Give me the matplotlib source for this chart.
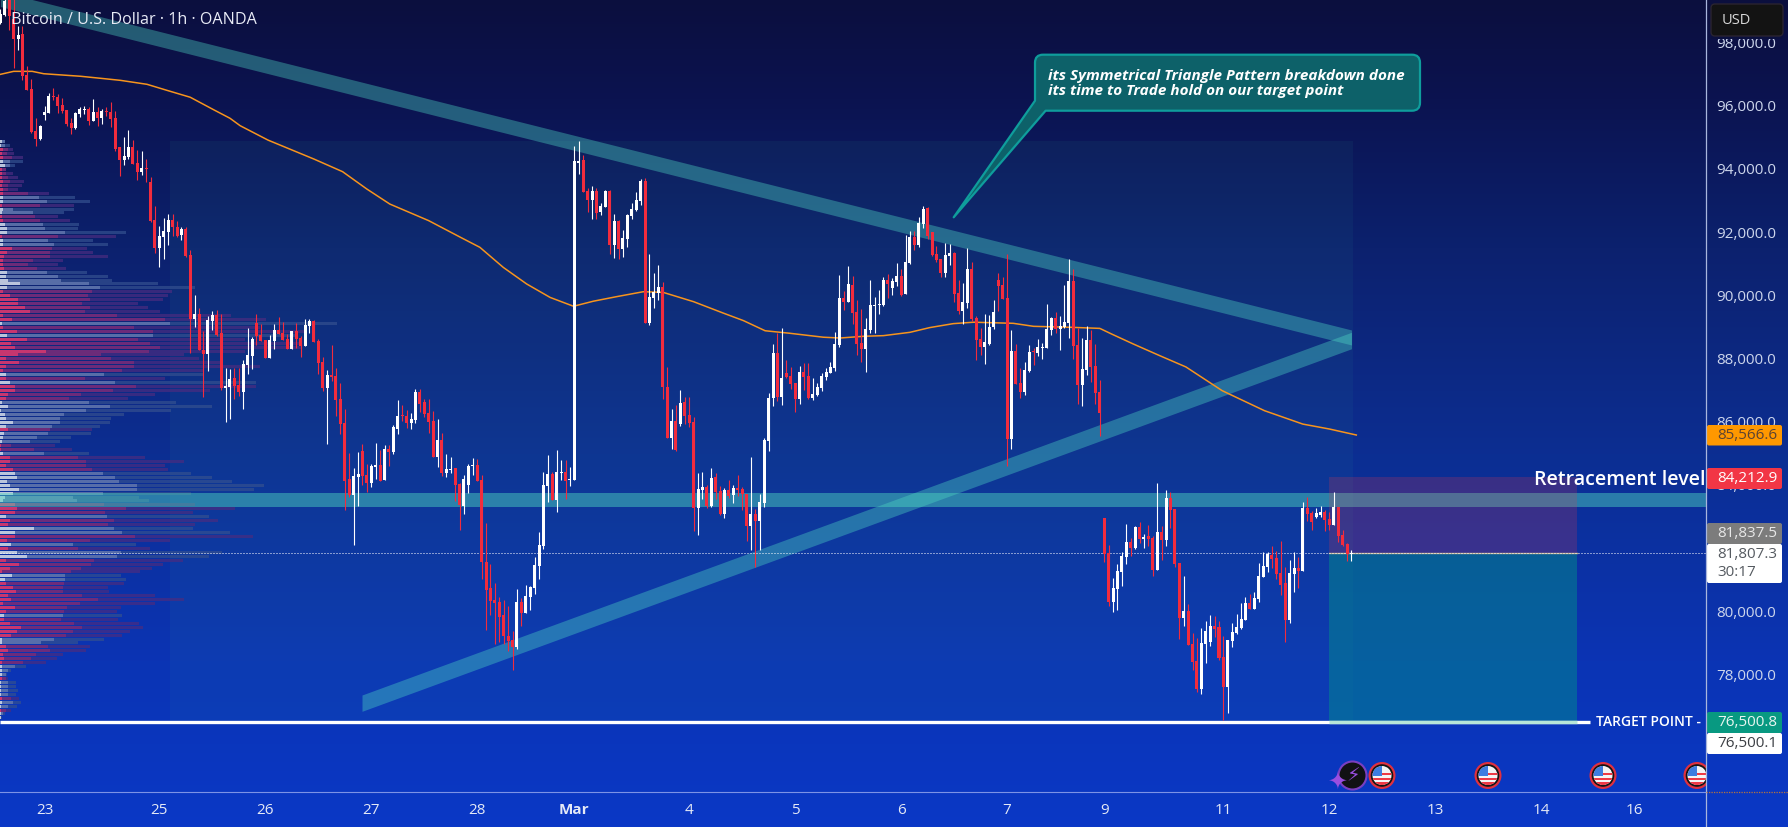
import numpy as np
from matplotlib import pyplot as plt
from matplotlib.patches import Circle, PathPatch, Rectangle, FancyBboxPatch
from matplotlib.path import Path

plt.rcParams['font.family'] = ['Open Sans', 'DejaVu Sans']

# hourly candles as (open, high, low, close)
candles_feb_a = [
    (98590, 99030, 98560, 98870), (98850, 99450, 98820, 99290), (99345, 99400, 98375, 98820), (98710, 99345, 97160, 98080),
    (98080, 98500, 97740, 98205), (98240, 98480, 96780, 96900), (96940, 97235, 96465, 96465), (96500, 96815, 95105, 95125),
    (95165, 95570, 94700, 94915), (94915, 95355, 94880, 95325), (95675, 95960, 95525, 95770), (95735, 96370, 95735, 96275),
    (96265, 96530, 96160, 96235), (96245, 96340, 95735, 95960), (95990, 96210, 95735, 95800), (95830, 95830, 95325, 95390),
    (95420, 95580, 95070, 95260), (95260, 95770, 95230, 95735), (95705, 95925, 95610, 95865), (95820, 95960, 95705, 95855),
    (95865, 95925, 95355, 95485), (95485, 96180, 95485, 95770), (95770, 95925, 95325, 95580), (95580, 95865, 95390, 95800),
    (95790, 95925, 95640, 95760), (95770, 96085, 95290, 95545), (95580, 95800, 94535, 94600), (94660, 94660, 93745, 94250),
    (94250, 94975, 94090, 94375), (94345, 95200, 94280, 94660), (94660, 94880, 94120, 94120), (94155, 94565, 93615, 93870),
    (93870, 94535, 93775, 93995), (93995, 94280, 93555, 93965), (93555, 93710, 92285, 92320), (92350, 92790, 91305, 91465),
    (91465, 92160, 90865, 91845), (91815, 92415, 91115, 92000), (91970, 92540, 91560, 92350), (92350, 92540, 91845, 92130),
    (92130, 92320, 91815, 91845), (91875, 92120, 91715, 92065), (92065, 92130, 91180, 91210), (91240, 91400, 88140, 89215),
    (89215, 89975, 88965, 89375), (89375, 89565, 88235, 88235), (88235, 88835, 86750, 88110), (88110, 89310, 87570, 89185),
    (89155, 89470, 88870, 89345), (89345, 89500, 88680, 88710), (88775, 89375, 86970, 87035), (87035, 87665, 85960, 87095),
]
candles_feb_b = [
    (87055, 87635, 86050, 87320), (87350, 87665, 86685, 87100), (87130, 87665, 86780, 86905), (86905, 87920, 86370, 87795),
    (87760, 88930, 87475, 88080), (88045, 88650, 87635, 88585), (89090, 89375, 88395, 88680), (88710, 89060, 88520, 88520),
    (88550, 88550, 87985, 87985), (87985, 88710, 87985, 88550), (88520, 89060, 88270, 88870), (88870, 89280, 88745, 88745),
    (88775, 89120, 88550, 88550), (88585, 88745, 88270, 88270), (88270, 88835, 88270, 88835), (88835, 89090, 88300, 88585),
    (88615, 88680, 88015, 88360), (88360, 89215, 88360, 89025), (88995, 89215, 88775, 89155), (89155, 89185, 88490, 88490),
    (88520, 88585, 87475, 87825), (87855, 88015, 86940, 87035), (87035, 87605, 85260, 87445), (87445, 88395, 87255, 87380),
    (87415, 87665, 86145, 86655), (86685, 87190, 85575, 85895), (85925, 86370, 83170, 84090), (84150, 84975, 83585, 83645),
    (83645, 84500, 82065, 84250), (84215, 85010, 83300, 84310), (85040, 85260, 83960, 84250), (84280, 84630, 83740, 84025),
    (84025, 84630, 83900, 84565), (84535, 85295, 84150, 84595), (84595, 85070, 84090, 84090), (84120, 85230, 84120, 85100),
    (85100, 85230, 84565, 85010), (85010, 85860, 84945, 85800), (85735, 86655, 85575, 86145), (86180, 86495, 85990, 86145),
    (86145, 86335, 85765, 85925), (85925, 86240, 85735, 86050), (86020, 87000, 85925, 86905), (86905, 87000, 86275, 86525),
    (86590, 86685, 86115, 86210), (86240, 86685, 85610, 85955), (85990, 86305, 84850, 84850), (84850, 86050, 84530, 85385),
    (85385, 85610, 84250, 84345), (84345, 84945, 84215, 84470), (84440, 84850, 84345, 84470), (84500, 84500, 83455, 83965),
    (83995, 84025, 82540, 83330), (83300, 84280, 83045, 84150), (83965, 84630, 83710, 84565),
]
candles_feb_c = [
    (84565, 84820, 84280, 84595), (84595, 84785, 84090, 84090), (84120, 84280, 80990, 81515), (81515, 82760, 79385, 80650),
    (80690, 81460, 79850, 80300), (80325, 80850, 78930, 80230), (80250, 80410, 79005, 79795), (79850, 80325, 78930, 79195),
    (79185, 80125, 78720, 79035), (79065, 79330, 78120, 78825), (78825, 80670, 78770, 80250), (80250, 80375, 79510, 79910),
    (79910, 80800, 79910, 80440), (80420, 80775, 80020, 80735), (80700, 81685, 80515, 81430), (81410, 82465, 80990, 82065),
    (82040, 84375, 81940, 83965), (83930, 84915, 83425, 84310), (84310, 84375, 83490, 83490), (83490, 85070, 83110, 84375),
    (84345, 84755, 84120, 84375), (84375, 84755, 83520, 84090), (84120, 84535, 83930, 84155),
]
candles_mar_a = [
    (84120, 94680, 84120, 94220), (94155, 94850, 93805, 94220), (94250, 94410, 93235, 93235), (93270, 93365, 92605, 92985),
    (92985, 93425, 92380, 93270), (93270, 93365, 92380, 92570), (92605, 92890, 92510, 92795), (92760, 93300, 92760, 93270),
    (93270, 93300, 91275, 91560), (91560, 92540, 91150, 92320), (92320, 92350, 91115, 91435), (91435, 92035, 91180, 91780),
    (91750, 92540, 91495, 92510), (92475, 92890, 92380, 92700), (92670, 93235, 92635, 92985), (92950, 93650, 92825, 93585),
    (93585, 93680, 89090, 89090), (89090, 91275, 89030, 89915), (89880, 90675, 89565, 90070), (90040, 90925, 89820, 90230),
    (90230, 90390, 86685, 87065), (87065, 87700, 85450, 85450), (85450, 86370, 85100, 85990), (85990, 86495, 85040, 85070),
    (85895, 86970, 85830, 86560), (86590, 86750, 85895, 86145), (86180, 86750, 85800, 85925), (85955, 86115, 82510, 83235),
    (83235, 84345, 82380, 83835), (83815, 84365, 83520, 83890), (83910, 83965, 83235, 83290), (83290, 84500, 83255, 84185),
    (84205, 84345, 83520, 83730), (83775, 83920, 83015, 83045), (83045, 83860, 82920, 83805), (83805, 84120, 83540, 83605),
    (83645, 83965, 83395, 83870), (83860, 84280, 83625, 83805), (83835, 83900, 83180, 83680), (83680, 83680, 82200, 82675),
    (82675, 84860, 81915, 83045), (83045, 83205, 81380, 82835), (82835, 83680, 81915, 83415), (83395, 85450, 83280, 85400),
]
candles_mar_b = [
    (85355, 86875, 85040, 86715), (86715, 88425, 86465, 88140), (88140, 88775, 86620, 86750), (86750, 88930, 86495, 87350),
    (87510, 87920, 87350, 87380), (87415, 87700, 87000, 87160), (87190, 87190, 86275, 86685), (86685, 87730, 86530, 87540),
    (87540, 87825, 86970, 87380), (87415, 87825, 86685, 86715), (86715, 87350, 86655, 86845), (86810, 87190, 86780, 87065),
    (87035, 87510, 86940, 87415), (87380, 87665, 87285, 87540), (87510, 87855, 87510, 87700), (87665, 88805, 87570, 88425),
    (88395, 90610, 88330, 89880), (89880, 90105, 89500, 89755), (89755, 90895, 89755, 90325), (90295, 90580, 89060, 89410),
    (89440, 89820, 88080, 88425), (88460, 89535, 87855, 88270), (88270, 89250, 87540, 88900), (88870, 90450, 88775, 89660),
    (89630, 89915, 88775, 89660), (89660, 90135, 89375, 89690), (89660, 90545, 89630, 90450), (90450, 90640, 89880, 90325),
    (90200, 90515, 89980, 90420), (90390, 90990, 90260, 90580), (90580, 90800, 89945, 89980), (90010, 91875, 90010, 91020),
    (90990, 92000, 90960, 91810), (91810, 92000, 91400, 91560), (91560, 92445, 91495, 92255), (92225, 92795, 92100, 92700),
    (92730, 92760, 91750, 91845), (91970, 91970, 91210, 91240), (91275, 91530, 91020, 91085), (91115, 91115, 90545, 90675),
    (90675, 91620, 90545, 91240), (91210, 91590, 90925, 91305), (91305, 91335, 89755, 90010), (90040, 90450, 89375, 89470),
    (89470, 90355, 89060, 89755), (89725, 91465, 89565, 90800), (90800, 91020, 89155, 89215), (89250, 89310, 87920, 88550),
    (88585, 88930, 88080, 88330), (88330, 89375, 87790, 88490), (88425, 89345, 88395, 88965), (88965, 89820, 88900, 89440),
]
candles_mar_c = [
    (90450, 90675, 89470, 90260), (90290, 90545, 89850, 89850), (89880, 91275, 84565, 85420), (85420, 88870, 85100, 88205),
    (88205, 88425, 87160, 87160), (87190, 87665, 86715, 86905), (86905, 87855, 86810, 87605), (87570, 88395, 87540, 88170),
    (88205, 88300, 87760, 88170), (88140, 88585, 88045, 88330), (88300, 88455, 87950, 88330), (88300, 89690, 88300, 88900),
    (88870, 89280, 88710, 89250), (89250, 89440, 88775, 88900), (88900, 89310, 88235, 88995), (88965, 90290, 88930, 89120),
    (89090, 91115, 88615, 90420), (90420, 90800, 87950, 88360), (88395, 88930, 86525, 87130), (87130, 88615, 86465, 87635),
    (87605, 88995, 87445, 88550), (88550, 88870, 87225, 87695), (87730, 88425, 86525, 86875), (86905, 87285, 85515, 86240),
]
candles_mar_d = [
    (82920, 82920, 81525, 81780), (81810, 82065, 80135, 80260), (80260, 81020, 79945, 80705), (80670, 81465, 80010, 81240),
    (81210, 81840, 80765, 81715), (81685, 82730, 81465, 82160), (82160, 82285, 81715, 81970), (81970, 82665, 81940, 82635),
    (82635, 82790, 82130, 82255), (82255, 82410, 81970, 82315), (82350, 82695, 82030, 82255), (82285, 82350, 81085, 81275),
    (81275, 84025, 81275, 82475), (82475, 82665, 81590, 82225), (82225, 83805, 82035, 83550), (83550, 83740, 82600, 83170),
    (83205, 83205, 81370, 81465), (81495, 81495, 79090, 79755), (79755, 81085, 79500, 79975), (79975, 80195, 78900, 78900),
    (78930, 79280, 78110, 78360), (78390, 79120, 77410, 77505), (77505, 79440, 77350, 78965), (78930, 79660, 78330, 79345),
    (78995, 79850, 78870, 79500), (79500, 79815, 79150, 79405), (79470, 79660, 78425, 78490), (78520, 79185, 76525, 77570),
    (77570, 79060, 76745, 79060), (79025, 79595, 78835, 79310), (79280, 79880, 79250, 79470), (79440, 80230, 79405, 79720),
    (79690, 80420, 79690, 80230), (80230, 80515, 80040, 80040), (80040, 80575, 80040, 80385), (80355, 81495, 80260, 81085),
    (81050, 81840, 81050, 81400), (81370, 81840, 81210, 81780), (81750, 82035, 81335, 81620), (81655, 81875, 80990, 81145),
    (81180, 82190, 80480, 80800), (80860, 81370, 78995, 79690), (79690, 81590, 79595, 81180), (81145, 81840, 80575, 81335),
    (81335, 81685, 80705, 81240), (81240, 83425, 81240, 83235), (83235, 83585, 82825, 83045), (83075, 83140, 82540, 82790),
    (82950, 83235, 82920, 83075), (83015, 83300, 82950, 83110), (83110, 83170, 82510, 82855), (82890, 83110, 82540, 82700),
    (82700, 83740, 82700, 83265), (83265, 83265, 82160, 82350), (82380, 82540, 82035, 82065), (82095, 82130, 81560, 81780),
    (81780, 81905, 81560, 81810),
]

# moving average samples (candle number, price)
ema_idx = [0, 3, 7.2, 9.8, 18.1, 22.7, 27.2, 33.2, 37.7, 43, 48.3, 52, 54.3, 60.6, 71, 77.5, 83, 88.2, 97, 104.1,
           108.6, 113.9, 119.2, 124.5, 129.8, 134.3, 139.6, 145.6, 150.1, 157, 163.7, 168.3, 173.2, 178.8, 186.4,
           190.2, 195.5, 200, 206, 210.5, 215.8, 220.4, 229.4, 234, 242.3, 249, 251.7, 256.6, 262.6, 268.5, 276.7,
           280.7, 286.3, 295, 301, 307.1]
ema_val = [96960, 97055, 97055, 96980, 96900, 96835, 96770, 96645, 96455, 96235, 95840, 95570, 95335, 94880, 94280,
           93880, 93330, 92855, 92330, 91810, 91485, 90850, 90325, 89900, 89620, 89780, 89925, 90080, 90060, 89765,
           89405, 89165, 88845, 88765, 88640, 88615, 88670, 88690, 88795, 88945, 89070, 89115, 89080, 88985, 88955,
           88920, 88740, 88425, 88055, 87700, 86950, 86685, 86315, 85890, 85735, 85545]

# volume profile rows from the top price down: (side, core, middle, total)
profile_top = [
    ('b', 2, 5, 5), ('b', 1, 5, 10), ('p', 3, 8, 13), ('p', 2, 7, 14), ('p', 3, 12, 23), ('b', 3, 10, 23), ('b', 5, 10, 15),
    ('p', 2, 6, 6), ('p', 2, 6, 13), ('p', 2, 8, 18), ('p', 3, 10, 24), ('p', 2, 8, 22), ('p', 3, 8, 18), ('p', 3, 28, 49),
    ('b', 3, 39, 75), ('b', 3, 47, 90), ('p', 2, 40, 74), ('b', 3, 13, 74), ('b', 2, 33, 64), ('p', 2, 35, 58), ('p', 3, 40, 70),
    ('b', 5, 43, 79), ('b', 7, 45, 78), ('b', 7, 65, 126), ('p', 2, 58, 116), ('b', 3, 48, 93), ('b', 3, 54, 108), ('p', 12, 52, 87),
    ('p', 7, 50, 93), ('p', 4, 50, 108), ('p', 3, 33, 63), ('p', 3, 28, 58), ('p', 4, 37, 66), ('b', 7, 47, 87), ('b', 6, 58, 108),
    ('b', 8, 61, 112), ('b', 20, 89, 158), ('b', 7, 100, 195), ('p', 3, 92, 172), ('p', 10, 88, 168), ('p', 18, 90, 163),
    ('p', 18, 82, 138), ('p', 25, 90, 148), ('p', 30, 85, 160), ('p', 3, 117, 231), ('p', 12, 165, 266), ('b', 2, 170, 337),
    ('p', 3, 134, 260), ('p', 17, 153, 304), ('b', 7, 153, 298), ('p', 27, 138, 245), ('p', 11, 150, 302), ('p', 15, 160, 302),
]
profile_mid = [
    ('p', 46, 149, 245), ('p', 18, 101, 184), ('p', 6, 111, 199), ('p', 19, 134, 222), ('p', 6, 134, 260), ('p', 3, 122, 203),
    ('b', 6, 104, 203), ('p', 6, 85, 165), ('b', 10, 115, 256), ('p', 15, 136, 256), ('p', 15, 113, 210), ('p', 8, 81, 155),
    ('p', 6, 69, 128), ('b', 2, 89, 176), ('b', 8, 110, 212), ('b', 1, 86, 171), ('b', 5, 64, 124), ('b', 6, 60, 111),
    ('b', 13, 60, 110), ('b', 6, 52, 100), ('p', 8, 50, 92), ('b', 4, 48, 91), ('b', 3, 37, 71), ('b', 2, 30, 60), ('p', 1, 11, 55),
    ('p', 1, 34, 72), ('b', 3, 44, 89), ('p', 10, 78, 145), ('p', 10, 86, 184), ('p', 6, 86, 165), ('p', 13, 92, 168),
    ('b', 15, 103, 191), ('b', 17, 115, 212), ('b', 7, 119, 232), ('b', 10, 137, 264), ('b', 19, 137, 254), ('b', 13, 103, 191),
    ('b', 5, 73, 139), ('b', 3, 77, 149), ('p', 15, 104, 195), ('p', 17, 126, 235), ('p', 15, 105, 193), ('b', 6, 107, 209),
    ('p', 10, 114, 218), ('p', 8, 108, 195), ('b', 34, 114, 193), ('b', 15, 122, 230), ('p', 15, 135, 253), ('p', 7, 90, 170),
]
profile_low = [
    ('b', 11, 73, 136), ('p', 8, 78, 150), ('b', 17, 121, 222), ('b', 27, 117, 209), ('p', 6, 94, 183), ('p', 19, 91, 163),
    ('p', 10, 81, 152), ('p', 2, 71, 140), ('b', 12, 65, 121), ('b', 5, 65, 126), ('p', 6, 64, 124), ('p', 13, 63, 108),
    ('p', 16, 63, 109), ('p', 8, 82, 155), ('p', 11, 98, 184), ('p', 3, 80, 155), ('p', 15, 67, 121), ('p', 6, 64, 117),
    ('b', 4, 63, 122), ('p', 4, 61, 118), ('p', 10, 74, 139), ('p', 21, 82, 143), ('p', 17, 73, 130), ('p', 11, 66, 122),
    ('b', 2, 54, 104), ('b', 2, 41, 78), ('p', 6, 48, 90), ('p', 8, 50, 86), ('p', 3, 36, 63), ('p', 4, 31, 57), ('p', 2, 23, 46),
    ('b', 2, 15, 26), ('b', 2, 8, 11), ('b', 2, 6, 7), ('p', 2, 6, 8), ('b', 1, 8, 16), ('b', 1, 8, 16), ('b', 1, 8, 18),
    ('b', 1, 8, 16), ('p', 2, 11, 19), ('b', 2, 13, 21), ('b', 1, 8, 17), ('p', 1, 6, 11), ('b', 1, 3, 5), ('b', 1, 1, 2),
]
profile_price_high = 94820
profile_price_low = 76590

y_ticks = [98000, 96000, 94000, 92000, 90000, 88000, 86000, 84000, 82000, 80000, 78000, 76000]
date_idx = [10, 36, 60, 84, 108, 130, 156, 180, 204, 228, 250, 277, 301, 325, 349, 370]
date_labels = ['23', '25', '26', '27', '28', 'Mar', '4', '5', '6', '7', '9', '11', '12', '13', '14', '16']

last_price = 81807.3
target_price = 76460
stop_price = 84212.9
entry_price = 81815

# drawing objects, in candle number and price
upper_band_idx = [0, 306]
upper_band_top = [99580, 88870]
upper_band_bottom = [99105, 88395]
lower_band_idx = [81.9, 306]
lower_band_top = [77316, 88796]
lower_band_bottom = [76800, 88275]
level_band = [83280, 83710]
zone_idx = [38.4, 306.3]
zone_price = [76500, 94850]
box_idx = [300.9, 357.1]

candles = candles_feb_a + candles_feb_b + candles_feb_c + candles_mar_a + candles_mar_b + candles_mar_c + candles_mar_d
opens, highs, lows, closes = np.array(candles, dtype=float).T
idx = np.arange(len(opens))
colors = np.where(closes >= opens, '#ffffff', '#f22c3d')

W, H = 1788, 828
fig = plt.figure(figsize=(W / 100, H / 100), dpi=100)

# background gradient
bg = fig.add_axes([0, 0, 1, 1], zorder=0)
stops_y = [0, 0.12, 0.3, 0.55, 0.8, 1]
stops_rgb = np.array([[11, 15, 62], [11, 19, 80], [12, 33, 110], [12, 46, 146], [11, 52, 180], [10, 56, 198]]) / 255
ramp = np.linspace(0, 1, 828)
grad = np.stack([np.interp(ramp, stops_y, stops_rgb[:, c]) for c in range(3)], axis=1)[:, None, :]
bg.imshow(grad, aspect='auto', extent=[0, 1, 0, 1])
bg.set_axis_off()

# price pane: x is the candle number
ax = fig.add_axes([0, 35 / H, 1706 / W, 793 / H], zorder=1)
ax.patch.set_alpha(0)
ax.set_xlim(-0.09, 386.3)
ax.set_ylim(74246, 99345)

ax.add_patch(Rectangle((zone_idx[0], zone_price[0]), zone_idx[1] - zone_idx[0], zone_price[1] - zone_price[0],
                       color='#2aa59a', alpha=0.07, lw=0, zorder=1))

# volume profile
rows = profile_top + profile_mid + profile_low
levels = np.linspace(profile_price_high, profile_price_low, len(rows))
px_to_idx = 1 / 4.415
for level, (side, core, middle, total) in zip(levels, rows):
    if side == 'p':
        shades = ['#4a2c80', '#7a2c78', '#d8386e']
    else:
        shades = ['#34508f', '#6478b0', '#ccd5e6']
    for width, shade, alpha in zip([total, middle, core], shades, [0.7, 0.8, 0.85]):
        ax.barh(level, width * px_to_idx, height=95, left=0, color=shade, alpha=alpha, lw=0, zorder=2)

band_color = '#4fd8c4'
ax.fill_between(upper_band_idx, upper_band_bottom, upper_band_top, color=band_color, alpha=0.38, lw=0, zorder=3)
ax.fill_between(lower_band_idx, lower_band_bottom, lower_band_top, color=band_color, alpha=0.38, lw=0, zorder=3)
ax.axhspan(level_band[0], level_band[1], color='#50dcc0', alpha=0.45, lw=0, zorder=3)

# risk and reward boxes
ax.add_patch(Rectangle((box_idx[0], entry_price), box_idx[1] - box_idx[0], stop_price - entry_price,
                       color='#f23645', alpha=0.2, lw=0, zorder=4))
ax.add_patch(Rectangle((box_idx[0], target_price), box_idx[1] - box_idx[0], entry_price - target_price,
                       color='#009688', alpha=0.45, lw=0, zorder=4))
ax.plot(box_idx, [entry_price, entry_price], color='#b9a98a', lw=1, zorder=5)

ax.plot([0, 360], [target_price, target_price], color='white', lw=2.4, solid_capstyle='butt', zorder=5)
ax.plot(box_idx, [target_price, target_price], color='#b8e6d8', lw=2.4, solid_capstyle='butt', zorder=5)

ax.axhline(last_price, color='white', lw=0.72, ls=(0, (1, 2)), zorder=6)
ax.plot(ema_idx, ema_val, color='#f7941d', lw=1.1, zorder=6)

# candles
ax.vlines(idx, lows, highs, colors=colors, lw=0.8, zorder=7)
ax.bar(idx, np.abs(closes - opens), bottom=np.minimum(opens, closes), width=0.68, color=colors, lw=0, zorder=8)

ax.set_yticks(y_ticks)
ax.set_yticklabels(['{:,.1f}'.format(v) for v in y_ticks], fontsize=11)
ax.set_xticks(date_idx)
ax.set_xticklabels(date_labels, fontsize=11)
ax.tick_params(axis='y', length=0, left=False, right=False, labelleft=False, labelright=True, pad=7.5, labelcolor='#cdd6ec')
ax.tick_params(axis='x', length=0, pad=7, labelcolor='#e4e9f6')
ax.get_xticklabels()[date_labels.index('Mar')].set_fontweight('bold')
for side in ['top', 'left', 'right']:
    ax.spines[side].set_visible(False)
ax.spines['bottom'].set_color('#7d93e6')
ax.spines['bottom'].set_linewidth(0.8)

# event icons stop at the price scale
icons = fig.add_axes([0, 0, 1706 / W, 1], zorder=2)
icons.set_xlim(0, 1706)
icons.set_ylim(H, 0)
icons.set_axis_off()


def add_flag(cx, cy):
    icons.add_patch(Circle((cx, cy), 13.5, color='#e0303f', lw=0))
    icons.add_patch(Circle((cx, cy), 11.3, color='#151515', lw=0))
    face = Circle((cx, cy), 9.5, color='#f4f4f4', lw=0)
    icons.add_patch(face)
    for off in [-2.5, 2.5, 7]:
        stripe = Rectangle((cx - 10, cy + off), 20, 2.5, color='#ee3a45', lw=0)
        icons.add_patch(stripe)
        stripe.set_clip_path(face)
    blue = Rectangle((cx - 10, cy - 10), 10.5, 10, color='#3d7de0', lw=0)
    icons.add_patch(blue)
    blue.set_clip_path(face)


icons.add_patch(Circle((1352.5, 776.5), 14, facecolor='#111114', edgecolor='#7a3fc0', lw=1.5))
icons.text(1353, 776, '\u26a1', color='#9a4ee0', fontsize=14, ha='center', va='center', family='DejaVu Sans')
icons.text(1337, 781, '\u2726', color='#9a4ee0', fontsize=17, ha='center', va='center', family='DejaVu Sans')
for cx in [1382, 1488, 1603, 1697]:
    add_flag(cx, 776.5)

# scale furniture and labels, in screen pixels
ui = fig.add_axes([0, 0, 1, 1], zorder=3)
ui.set_xlim(0, W)
ui.set_ylim(H, 0)
ui.set_axis_off()
ui.plot([1706, 1706], [0, H], color='#a9b6dd', lw=0.9)
ui.plot([1706, W], [793, 793], color='#b8743c', lw=0.9, ls=(0, (1, 1)))

ui.text(11, 20.5, 'Bitcoin / U.S. Dollar \u00b7 1h \u00b7 OANDA', color='#e8ebf6', fontsize=11.6, fontweight='medium', va='center')


def add_tag(top, bottom, fill, lines, text_color):
    ui.add_patch(FancyBboxPatch((1707, top), 75, bottom - top, boxstyle='round,pad=0,rounding_size=2', fc=fill, ec='none'))
    for y, label in lines:
        ui.text(1717, y, label, color=text_color, fontsize=11, va='center')


add_tag(426, 446.5, '#ff9800', [(436, '85,566.6')], '#5b4334')
add_tag(469, 490, '#f23645', [(479, '84,212.9')], '#ffffff')
add_tag(524, 545, '#7c7c7c', [(534, '81,837.5')], '#e8e8e8')
add_tag(545, 584, '#ffffff', [(555, '81,807.3'), (572.5, '30:17')], '#555a60')
add_tag(713, 734, '#089981', [(723, '76,500.8')], '#e8f5f0')
add_tag(734, 755, '#ffffff', [(744, '76,500.1')], '#3c3f44')

ui.add_patch(Rectangle((1711, 30), 72, 10, color='#0b103e', lw=0))
ui.add_patch(FancyBboxPatch((1711, 5), 72, 32, boxstyle='round,pad=0,rounding_size=4', fc='#131313', ec='#2a2430', lw=1))
ui.text(1722, 21, 'USD', color='#d8d8d8', fontsize=10.5, va='center')

ui.text(1705, 480, 'Retracement level', color='white', fontsize=14, fontweight='semibold', ha='right', va='center')
ui.text(1595.5, 722.5, 'TARGET POINT -', color='white', fontsize=10, fontweight='semibold', va='center')

# callout with its pointer
r = 8
verts = [(1035, 55.7 + r), (1035, 55.7), (1035 + r, 55.7), (1420 - r, 55.7), (1420, 55.7), (1420, 55.7 + r),
         (1420, 111.7 - r), (1420, 111.7), (1420 - r, 111.7), (1045.6, 111.7), (953.7, 218.3), (1035, 101.7), (1035, 55.7 + r)]
codes = [Path.MOVETO, Path.CURVE3, Path.CURVE3, Path.LINETO, Path.CURVE3, Path.CURVE3, Path.LINETO, Path.CURVE3, Path.CURVE3,
         Path.LINETO, Path.LINETO, Path.LINETO, Path.CLOSEPOLY]
ui.add_patch(PathPatch(Path(verts, codes), facecolor='#0d6169', edgecolor='#0f9d9c', lw=1.6, joinstyle='round'))
ui.text(1048, 76, 'its Symmetrical Triangle Pattern breakdown done', color='white', fontsize=11,
        fontweight='bold', fontstyle='italic', va='center')
ui.text(1048, 90.7, 'its time to Trade hold on our target point', color='white', fontsize=11,
        fontweight='bold', fontstyle='italic', va='center')

fig.savefig('out.png', dpi=100)
plt.close()
